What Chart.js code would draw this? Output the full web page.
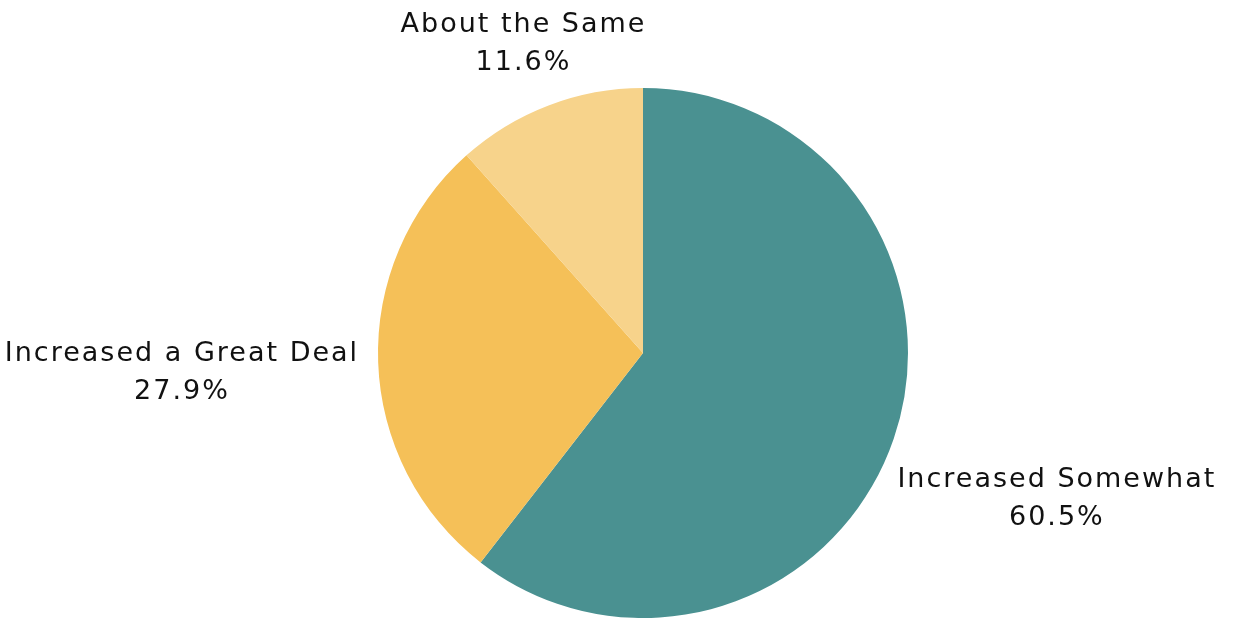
<!DOCTYPE html>
<html>
<head>
<meta charset="utf-8">
<script src="https://cdn.jsdelivr.net/npm/chart.js@4"></script>
<style>
  html, body { margin: 0; padding: 0; background: #ffffff; }
  #wrap { width: 1238px; height: 621px; position: relative; }
</style>
</head>
<body>
<div id="wrap"><canvas id="chart"></canvas></div>
<script>
// Survey response shares (percent)
const categories = ['Increased Somewhat', 'Increased a Great Deal', 'About the Same'];
const shares = [60.5, 27.9, 11.6];
const sliceColors = ['#4a9191', '#f5c058', '#f7d38b'];

const FONT = '27px "DejaVu Sans", sans-serif';
const LETTER_SPACING = '2px';
const LINE_H = 38;
const LABEL_GAP = 19;
const TEXT_DROP = 4;

// Draws each slice's name and share outside the pie, centred on the slice's middle angle
const outsideLabels = {
  id: 'outsideLabels',
  afterDatasetsDraw(chart) {
    const ctx = chart.ctx;
    const meta = chart.getDatasetMeta(0);
    ctx.save();
    ctx.font = FONT;
    ctx.letterSpacing = LETTER_SPACING;
    ctx.fillStyle = '#111111';
    ctx.textAlign = 'center';
    ctx.textBaseline = 'middle';
    meta.data.forEach((arc, i) => {
      const p = arc.getProps(['x', 'y', 'startAngle', 'endAngle', 'outerRadius'], true);
      const mid = (p.startAngle + p.endAngle) / 2;
      const c = Math.cos(mid), s = Math.sin(mid);
      const lines = [categories[i], shares[i].toFixed(1) + '%'];
      const w = Math.max(...lines.map(t => ctx.measureText(t).width));
      const dist = p.outerRadius + LABEL_GAP + Math.abs(c) * w / 2 + Math.abs(s) * 8;
      const cx = p.x + c * dist;
      const cy = p.y + s * dist + TEXT_DROP;
      lines.forEach((t, k) => {
        ctx.fillText(t, cx, cy + (k - (lines.length - 1) / 2) * LINE_H);
      });
    });
    ctx.restore();
  }
};

new Chart(document.getElementById('chart'), {
  type: 'pie',
  data: {
    labels: categories,
    datasets: [{
      data: shares,
      backgroundColor: sliceColors,
      borderWidth: 0
    }]
  },
  options: {
    responsive: true,
    maintainAspectRatio: false,
    animation: false,
    layout: { padding: { top: 88, bottom: 3, left: 100, right: 52 } },
    plugins: {
      legend: { display: false },
      tooltip: { enabled: false }
    }
  },
  plugins: [outsideLabels]
});
</script>
</body>
</html>
